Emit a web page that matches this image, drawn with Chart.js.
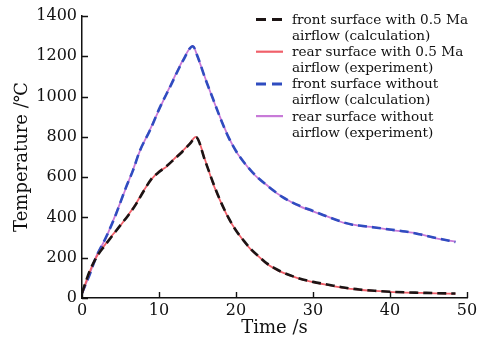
<!DOCTYPE html>
<html>
<head>
<meta charset="utf-8">
<script src="https://cdn.jsdelivr.net/npm/chart.js@4.4.1/dist/chart.umd.min.js"></script>
<style>
  html, body { margin: 0; padding: 0; background: #fff; }
  #wrap { width: 494px; height: 347px; position: relative; }
</style>
</head>
<body>
<div id="wrap"><canvas id="c" width="494" height="347"></canvas></div>
<script>
// ---- data ----
const timeWithAirflow = [0,1,2,3,4,5,6,7,8,9,10,11,12,13,14,14.8,16,17,18,19,20,21,22,23,24,25,26,28,30,32,34,36,38,40,42,44,46,48.5];
const frontWithAirflowCalc = [25,134,210,262,312,362,410,465,530,590,625,655,690,725,765,798,680,575,480,400,335,285,240,205,172,148,128,100,80,66,52,42,36,31,28,26,24,22];
const rearWithAirflowExp   = [22,130,212,265,315,360,412,468,532,588,628,652,692,728,768,800,684,570,478,398,336,283,238,204,170,146,127,99,79,64,50,41,35,30,27,25,23,21];

const timeWithoutAirflow = [0,1,1.8,3.1,4.4,5.7,6.6,7.5,8.8,10.1,11.4,13.1,14.4,15,16,17,18,19,20,21,22,23,24,25,26,28,30,32,34,35,36,38,40,42,44,46,48.5];
const frontWithoutAirflowCalc = [25,117,200,300,415,548,631,730,830,945,1045,1177,1250,1200,1090,990,890,800,730,675,630,592,560,530,502,462,432,402,375,365,360,350,340,330,315,298,278];
const rearWithoutAirflowExp   = [22,120,203,298,418,545,634,728,833,942,1048,1180,1252,1198,1092,988,892,802,728,676,628,590,561,528,503,460,430,403,373,366,358,351,338,329,316,296,280];

const xTicks = [0,10,20,30,40,50];
const yTicks = [0,200,400,600,800,1000,1200,1400];

const seriesLabels = [
  ["front surface with 0.5 Ma", "airflow (calculation)"],
  ["rear surface with 0.5 Ma", "airflow (experiment)"],
  ["front surface without", "airflow (calculation)"],
  ["rear surface without", "airflow (experiment)"]
];
const xTitle = "Time /s";
const yTitle = "Temperature /\u2103";

// ---- build ----
const pts = (xs, ys) => xs.map((x, i) => ({x: x, y: ys[i]}));
const SERIF = "'DejaVu Serif', serif";

const colors = ['#1c1414', '#f0606a', '#2f4cc0', '#c87ad8'];
const dashes = [[9,5], [], [9,5], []];
const widths = [2.6, 1.8, 2.6, 1.8];

const dataSets = [
  pts(timeWithAirflow, frontWithAirflowCalc),
  pts(timeWithAirflow, rearWithAirflowExp),
  pts(timeWithoutAirflow, frontWithoutAirflowCalc),
  pts(timeWithoutAirflow, rearWithoutAirflowExp)
];

const datasets = dataSets.map((d, i) => ({
  label: seriesLabels[i].join(' '),
  data: d,
  borderColor: colors[i],
  backgroundColor: colors[i],
  borderWidth: widths[i],
  borderDash: dashes[i],
  pointRadius: 0,
  cubicInterpolationMode: 'monotone',
  fill: false
}));

const innerTicks = {
  id: 'innerTicks',
  afterDraw(chart) {
    const ctx = chart.ctx;
    const xs = chart.scales.x, ys = chart.scales.y;
    const len = 6;
    ctx.save();
    ctx.strokeStyle = '#111';
    ctx.lineWidth = 1.4;
    ctx.beginPath();
    xTicks.forEach(v => {
      const px = Math.round(xs.getPixelForValue(v)) + 0.5;
      ctx.moveTo(px, ys.bottom);
      ctx.lineTo(px, ys.bottom - len);
    });
    yTicks.forEach(v => {
      const py = Math.round(ys.getPixelForValue(v)) + 0.5;
      ctx.moveTo(xs.left, py);
      ctx.lineTo(xs.left + len, py);
    });
    ctx.stroke();
    ctx.restore();
  }
};

const customLegend = {
  id: 'customLegend',
  afterDraw(chart) {
    const ctx = chart.ctx;
    ctx.save();
    ctx.font = "13.6px " + SERIF;
    ctx.textBaseline = 'middle';
    ctx.textAlign = 'left';
    const x0 = 256, x1 = 283, tx = 292, y0 = 20.5, step = 32.2, lh = 16;
    seriesLabels.forEach((lines, i) => {
      const y = y0 + i * step;
      ctx.beginPath();
      ctx.strokeStyle = colors[i];
      ctx.lineWidth = widths[i] + 0.4;
      ctx.setLineDash(dashes[i].length ? [10, 6] : []);
      ctx.moveTo(x0, y - 1);
      ctx.lineTo(x1, y - 1);
      ctx.stroke();
      ctx.setLineDash([]);
      ctx.fillStyle = '#111';
      lines.forEach((t, j) => ctx.fillText(t, tx, y + j * lh));
    });
    ctx.restore();
  }
};

new Chart(document.getElementById('c'), {
  type: 'line',
  data: { datasets },
  options: {
    responsive: false,
    animation: false,
    devicePixelRatio: 1,
    layout: { padding: { top: 16, right: 27, left: 0, bottom: 0 } },
    plugins: { legend: { display: false }, tooltip: { enabled: false } },
    scales: {
      x: {
        type: 'linear',
        min: 0, max: 50,
        afterBuildTicks(s) { s.ticks = xTicks.map(v => ({value: v})); },
        afterFit(s) { s.height = 49; },
        grid: { drawOnChartArea: false, drawTicks: false },
        border: { display: true, color: '#111', width: 1.5 },
        ticks: { color: '#111', font: { family: SERIF, size: 16 }, padding: 3, maxRotation: 0, callback: v => String(v) },
        title: { display: true, text: xTitle, color: '#111', font: { family: SERIF, size: 18 }, padding: { top: 0, bottom: 8 } }
      },
      y: {
        type: 'linear',
        min: 0, max: 1400,
        afterBuildTicks(s) { s.ticks = yTicks.map(v => ({value: v})); },
        afterFit(s) { s.width = 82; },
        grid: { drawOnChartArea: false, drawTicks: false },
        border: { display: true, color: '#111', width: 1.5 },
        ticks: { color: '#111', font: { family: SERIF, size: 16 }, padding: 5, callback: v => String(v) },
        title: { display: true, text: yTitle, color: '#111', font: { family: SERIF, size: 18 }, padding: { top: 12, bottom: 0 } }
      }
    }
  },
  plugins: [innerTicks, customLegend]
});
</script>
</body>
</html>
